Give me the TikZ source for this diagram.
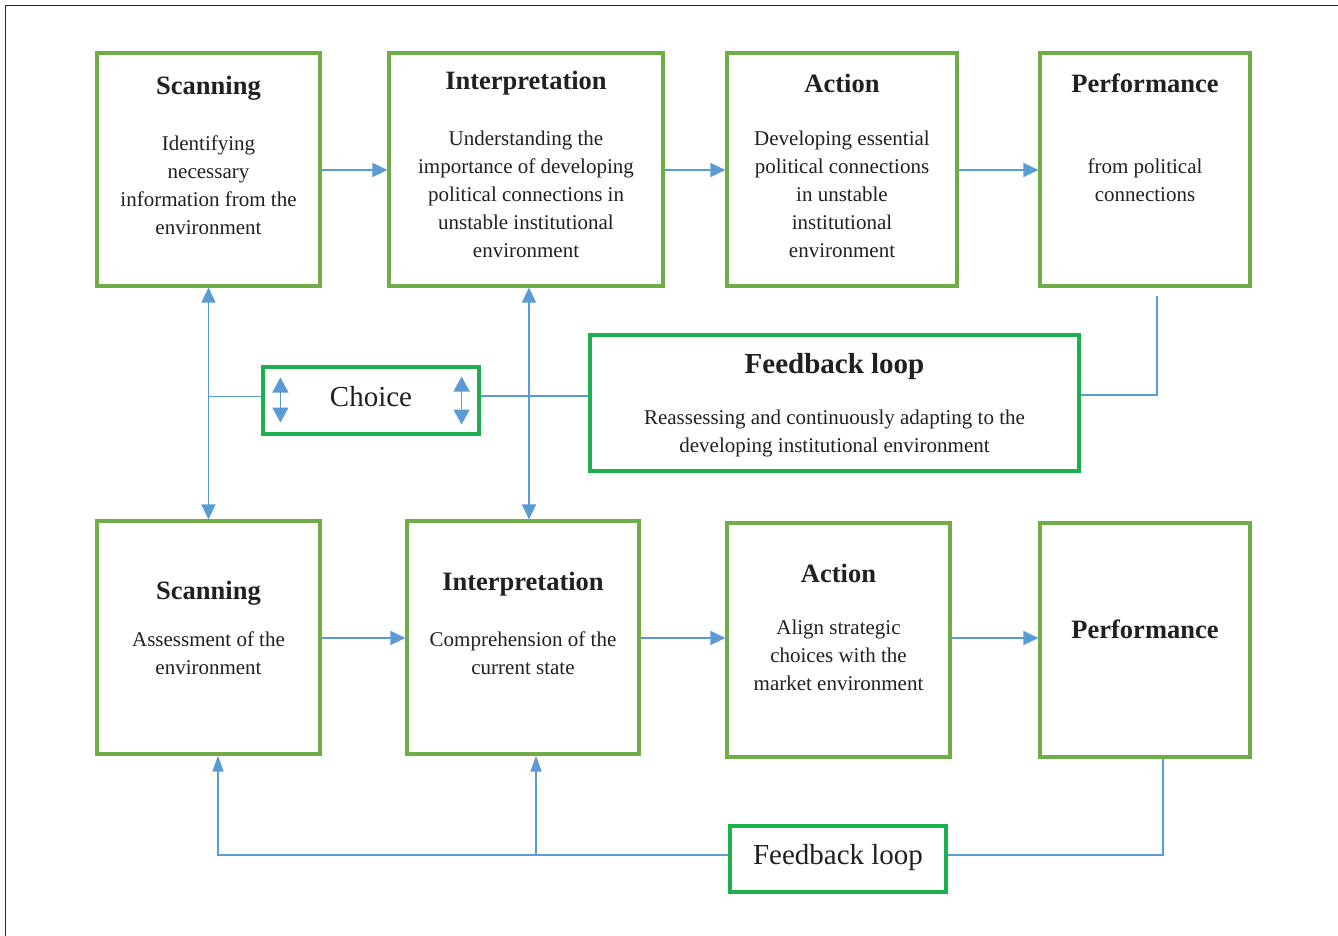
\documentclass[tikz,border=0pt]{standalone}
\usepackage{fontspec}
\setmainfont{Liberation Serif}
\usetikzlibrary{arrows.meta,positioning,calc}
\definecolor{boxgreen}{HTML}{70AD47}
\definecolor{loopgreen}{HTML}{1DB04F}
\definecolor{linkblue}{HTML}{5B9BD5}
\definecolor{ink}{HTML}{231F20}
\begin{document}
\begin{tikzpicture}[x=1pt,y=-1pt,
  stagebox/.style={draw=boxgreen,line width=3.2pt,inner sep=0pt},
  loopbox/.style={draw=loopgreen,line width=3.2pt,inner sep=0pt},
  head/.style={font=\bfseries\fontsize{26.5}{30}\selectfont,text=ink,inner sep=0pt},
  body/.style={font=\fontsize{21}{28}\selectfont,text=ink,align=center,inner sep=0pt},
  bigtext/.style={font=\fontsize{29}{32}\selectfont,text=ink,inner sep=0pt},
  link/.style={draw=linkblue,line width=1.5pt},
  tip/.style={-{Triangle[length=15pt,width=14pt]}},
  bitip/.style={{Triangle[length=15pt,width=14pt]}-{Triangle[length=15pt,width=14pt]}},
  smalltip/.style={{Triangle[length=15pt,width=16pt]}-{Triangle[length=15pt,width=16pt]}},
  uptip/.style={-{Triangle[length=16pt,width=11pt]}}]
\useasboundingbox (0,0) rectangle (1338,936);
\fill[white] (0,0) rectangle (1338,936);
% page frame
\draw[line width=1.5pt,black!85] (5.5,936) -- (5.5,5.5) -- (1338,5.5);

% top row of stages
\node[stagebox,minimum width=223pt,minimum height=233pt] (sc1) at (208.5,169.5) {};
\node[stagebox,minimum width=274pt,minimum height=233pt] (in1) at (526,169.5) {};
\node[stagebox,minimum width=230pt,minimum height=233pt] (ac1) at (842,169.5) {};
\node[stagebox,minimum width=210pt,minimum height=233pt] (pf1) at (1145,169.5) {};

\node[head] (sc1h) at (208.5,88) {Scanning};
\node[body] (sc1b) at (208.5,185) {Identifying\\necessary\\information from the\\environment};
\node[head] (in1h) at (526,83) {Interpretation};
\node[body] (in1b) at (526,194) {Understanding the\\importance of developing\\political connections in\\unstable institutional\\environment};
\node[head] (ac1h) at (842,83) {Action};
\node[body] (ac1b) at (842,194) {Developing essential\\political connections\\in unstable\\institutional\\environment};
\node[head] (pf1h) at (1145,83) {Performance};
\node[body] (pf1b) at (1145,180) {from political\\connections};

% bottom row of stages
\node[stagebox,minimum width=223pt,minimum height=233pt] (sc2) at (208.5,637.5) {};
\node[stagebox,minimum width=232pt,minimum height=233pt] (in2) at (523,637.5) {};
\node[stagebox,minimum width=223pt,minimum height=234pt] (ac2) at (838.5,640) {};
\node[stagebox,minimum width=210pt,minimum height=234pt] (pf2) at (1145,640) {};

\node[head] (sc2h) at (208.5,593) {Scanning};
\node[body] (sc2b) at (208.5,653) {Assessment of the\\environment};
\node[head] (in2h) at (523,584) {Interpretation};
\node[body] (in2b) at (523,653) {Comprehension of the\\current state};
\node[head] (ac2h) at (838.5,573) {Action};
\node[body] (ac2b) at (838.5,655) {Align strategic\\choices with the\\market environment};
\node[head] (pf2h) at (1145,629) {Performance};

% choice and feedback boxes
\node[loopbox,minimum width=216pt,minimum height=67pt] (ch) at (371,400.5) {};
\node[bigtext] (cht) at (371,397) {Choice};
\node[loopbox,minimum width=489pt,minimum height=136pt] (fb1) at (834.5,403) {};
\node[font=\bfseries\fontsize{29}{32}\selectfont,text=ink,inner sep=0pt] (fb1h) at (834.5,367) {Feedback loop};
\node[body] (fb1b) at (834.5,433) {Reassessing and continuously adapting to the\\developing institutional environment};
\node[loopbox,minimum width=216pt,minimum height=66pt] (fb2) at (838,859) {};
\node[bigtext] (fb2t) at (838,858) {Feedback loop};

% flow along the rows
\draw[link,tip] (sc1.east |- 0,170) -- (in1.west |- 0,170);
\draw[link,tip] (in1.east |- 0,170) -- (ac1.west |- 0,170);
\draw[link,tip] (ac1.east |- 0,170) -- (pf1.west |- 0,170);
\draw[link,tip] (sc2.east |- 0,638) -- (in2.west |- 0,638);
\draw[link,tip] (in2.east |- 0,638) -- (ac2.west |- 0,638);
\draw[link,tip] (ac2.east |- 0,638) -- (pf2.west |- 0,638);

% links between the two rows
\draw[link,bitip] (sc1.south) -- (sc2.north);
\draw[link,bitip] ([xshift=3pt]in1.south) -- ([xshift=3pt]in1.south |- in2.north);
\draw[link] ([yshift=4pt]ch.west) -- ([yshift=4pt]ch.west -| sc1.south);
\draw[link] ([yshift=4.5pt]ch.east) -- ([yshift=4.5pt]ch.east -| fb1.west);
\draw[link] ([yshift=8pt]fb1.east) -| ([xshift=12pt,yshift=-8pt]pf1.south);

% arrows inside the choice box
\coordinate (chl) at ($(ch.west)+(19,0)$);
\coordinate (chr) at ($(ch.east)+(-19,0)$);
\draw[link,smalltip] ([yshift=23pt]chl) -- ([yshift=-22pt]chl);
\draw[link,smalltip] ([yshift=24pt]chr) -- ([yshift=-24pt]chr);

% lower feedback loop
\draw[link,uptip] (fb2.west |- 0,855) -| ([xshift=9.5pt]sc2.south);
\draw[link,uptip] ([xshift=13pt]in2.south |- 0,855) -- ([xshift=13pt]in2.south);
\draw[link] (fb2.east |- 0,855) -| ([xshift=18pt]pf2.south);
\end{tikzpicture}
\end{document}
